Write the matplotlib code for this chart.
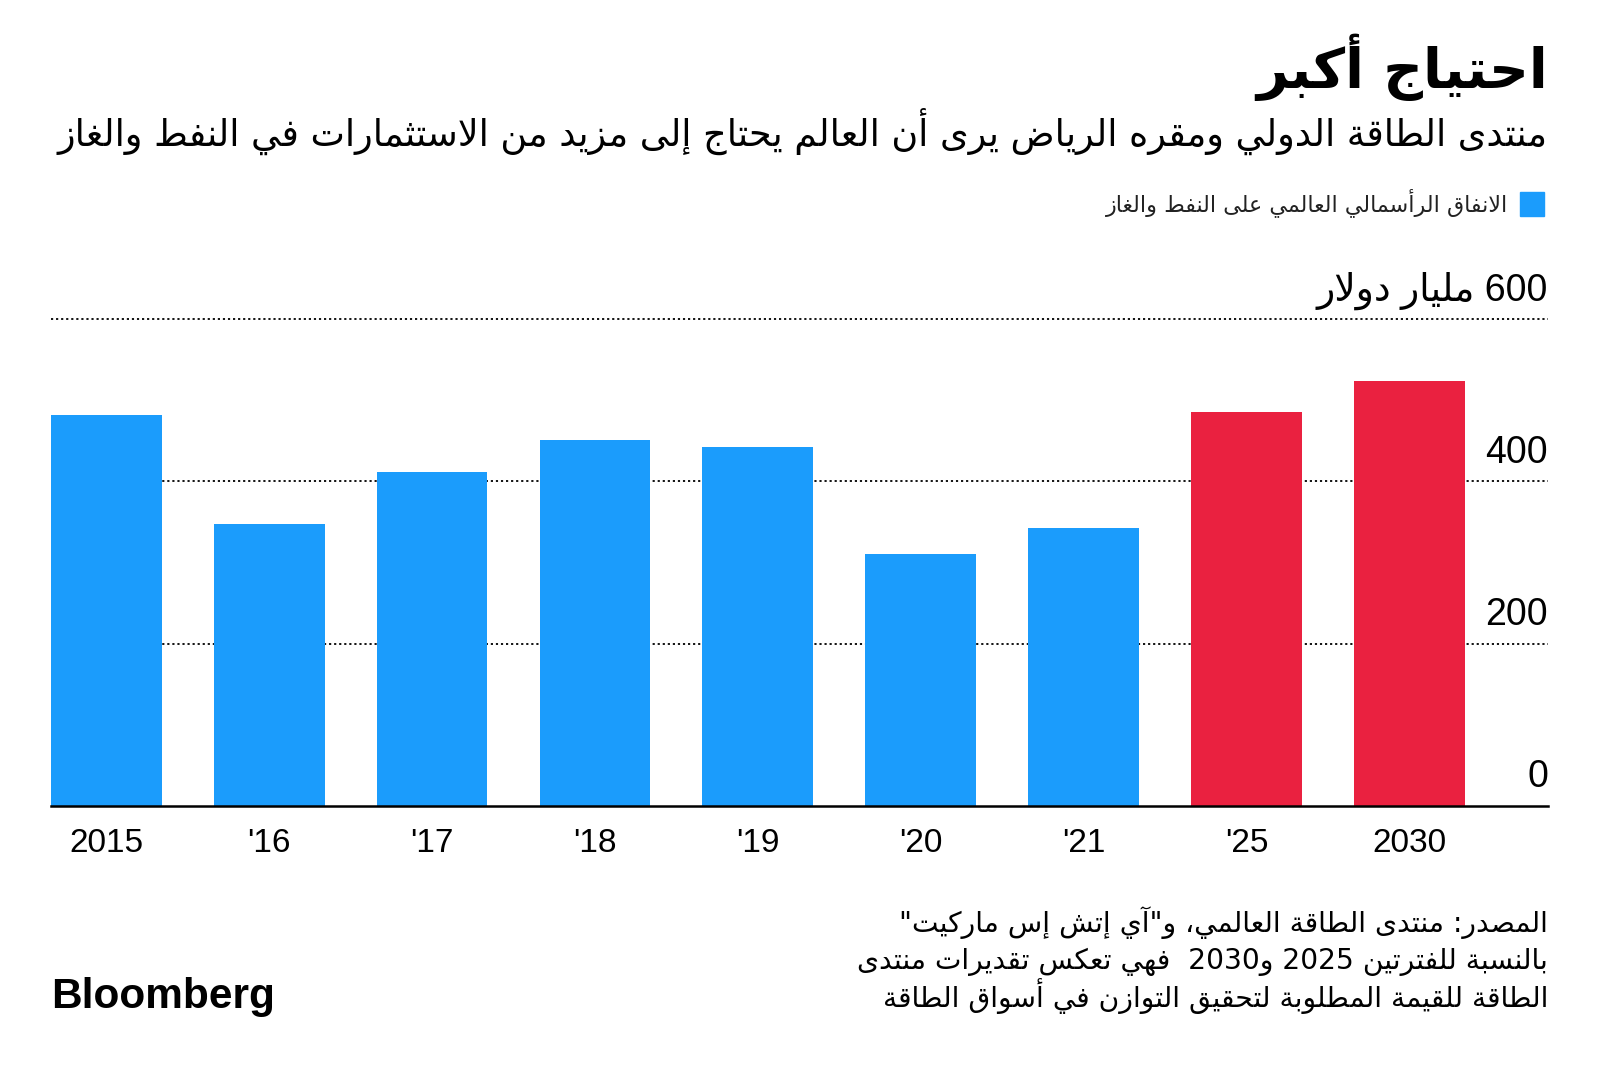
import re
import matplotlib
matplotlib.use("Agg")
import matplotlib.pyplot as plt

# ---------------- data ----------------
categories = ["2015", "'16", "'17", "'18", "'19", "'20", "'21", "'25", "2030"]
capex = [482, 348, 411, 451, 442, 310, 343, 485, 524]
is_estimate = [False, False, False, False, False, False, False, True, True]
y_ticks = [0, 200, 400, 600]
y_tick_labels = ["0", "200", "400", "600 مليار دولار"]

title = "احتياج أكبر"
subtitle = "منتدى الطاقة الدولي ومقره الرياض يرى أن العالم يحتاج إلى مزيد من الاستثمارات في النفط والغاز"
legend_label = "الانفاق الرأسمالي العالمي على النفط والغاز"
footer_lines = [
    'المصدر: منتدى الطاقة العالمي، و"آي إتش إس ماركيت"',
    "بالنسبة للفترتين 2025 و2030  فهي تعكس تقديرات منتدى",
    "الطاقة للقيمة المطلوبة لتحقيق التوازن في أسواق الطاقة",
]

BLUE = "#1b9cfc"
RED = "#ea2140"

# ---------------- minimal Arabic shaping ----------------
_F = {
    '\u0621': ('\uFE80', None, None, None),
    '\u0622': ('\uFE81', '\uFE82', None, None),
    '\u0623': ('\uFE83', '\uFE84', None, None),
    '\u0624': ('\uFE85', '\uFE86', None, None),
    '\u0625': ('\uFE87', '\uFE88', None, None),
    '\u0626': ('\uFE89', '\uFE8A', '\uFE8B', '\uFE8C'),
    '\u0627': ('\uFE8D', '\uFE8E', None, None),
    '\u0628': ('\uFE8F', '\uFE90', '\uFE91', '\uFE92'),
    '\u0629': ('\uFE93', '\uFE94', None, None),
    '\u062A': ('\uFE95', '\uFE96', '\uFE97', '\uFE98'),
    '\u062B': ('\uFE99', '\uFE9A', '\uFE9B', '\uFE9C'),
    '\u062C': ('\uFE9D', '\uFE9E', '\uFE9F', '\uFEA0'),
    '\u062D': ('\uFEA1', '\uFEA2', '\uFEA3', '\uFEA4'),
    '\u062E': ('\uFEA5', '\uFEA6', '\uFEA7', '\uFEA8'),
    '\u062F': ('\uFEA9', '\uFEAA', None, None),
    '\u0630': ('\uFEAB', '\uFEAC', None, None),
    '\u0631': ('\uFEAD', '\uFEAE', None, None),
    '\u0632': ('\uFEAF', '\uFEB0', None, None),
    '\u0633': ('\uFEB1', '\uFEB2', '\uFEB3', '\uFEB4'),
    '\u0634': ('\uFEB5', '\uFEB6', '\uFEB7', '\uFEB8'),
    '\u0635': ('\uFEB9', '\uFEBA', '\uFEBB', '\uFEBC'),
    '\u0636': ('\uFEBD', '\uFEBE', '\uFEBF', '\uFEC0'),
    '\u0637': ('\uFEC1', '\uFEC2', '\uFEC3', '\uFEC4'),
    '\u0638': ('\uFEC5', '\uFEC6', '\uFEC7', '\uFEC8'),
    '\u0639': ('\uFEC9', '\uFECA', '\uFECB', '\uFECC'),
    '\u063A': ('\uFECD', '\uFECE', '\uFECF', '\uFED0'),
    '\u0641': ('\uFED1', '\uFED2', '\uFED3', '\uFED4'),
    '\u0642': ('\uFED5', '\uFED6', '\uFED7', '\uFED8'),
    '\u0643': ('\uFED9', '\uFEDA', '\uFEDB', '\uFEDC'),
    '\u0644': ('\uFEDD', '\uFEDE', '\uFEDF', '\uFEE0'),
    '\u0645': ('\uFEE1', '\uFEE2', '\uFEE3', '\uFEE4'),
    '\u0646': ('\uFEE5', '\uFEE6', '\uFEE7', '\uFEE8'),
    '\u0647': ('\uFEE9', '\uFEEA', '\uFEEB', '\uFEEC'),
    '\u0648': ('\uFEED', '\uFEEE', None, None),
    '\u0649': ('\uFEEF', '\uFEF0', None, None),
    '\u064A': ('\uFEF1', '\uFEF2', '\uFEF3', '\uFEF4'),
}
_LA = {'\u0622': ('\uFEF5', '\uFEF6'), '\u0623': ('\uFEF7', '\uFEF8'),
       '\u0625': ('\uFEF9', '\uFEFA'), '\u0627': ('\uFEFB', '\uFEFC')}


def _reshape(s):
    units, i = [], 0
    while i < len(s):
        c = s[i]
        if c == '\u0644' and i + 1 < len(s) and s[i + 1] in _LA:
            units.append(('LA', s[i + 1]))
            i += 2
        else:
            units.append(('C', c))
            i += 1

    def jl(u):
        return u[0] == 'C' and u[1] in _F and _F[u[1]][2] is not None

    def jr(u):
        return u[0] == 'LA' or (u[1] in _F and _F[u[1]][1] is not None)

    out = []
    for k, u in enumerate(units):
        pj = k > 0 and jl(units[k - 1]) and jr(u)
        nj = k + 1 < len(units) and jl(u) and jr(units[k + 1])
        if u[0] == 'LA':
            out.append(_LA[u[1]][1 if pj else 0])
        elif u[1] in _F:
            iso, fin, ini, med = _F[u[1]]
            out.append(med if (pj and nj) else fin if pj else ini if nj else iso)
        else:
            out.append(u[1])
    return ''.join(out)


def ar(s):
    toks = re.findall(r'[0-9A-Za-z]+|.', _reshape(s), flags=re.S)
    return ''.join(reversed(toks))


# ---------------- figure ----------------
W, H = 1600, 1074
fig = plt.figure(figsize=(W / 100, H / 100), dpi=100)
fig.patch.set_facecolor("white")

ax_left, ax_right, ax_bot, ax_top = 51, 1548, 806, 319
ax = fig.add_axes([ax_left / W, 1 - ax_bot / H, (ax_right - ax_left) / W, (ax_bot - ax_top) / H])

x = list(range(len(categories)))
colors = [RED if e else BLUE for e in is_estimate]
ax.bar(x, capex, width=0.68, color=colors, zorder=2)

for v in y_ticks[1:]:
    ax.axhline(v, color="black", lw=1.3, ls=(0, (1.2, 1.6)), zorder=1, clip_on=False)
ax.axhline(0, color="black", lw=1.8, zorder=3, clip_on=False)

ax.set_xlim(-0.34, 8.852)
ax.set_ylim(0, 600)
for s in ax.spines.values():
    s.set_visible(False)
ax.set_yticks([])
ax.set_xticks(x)
ax.set_xticklabels(categories, fontsize=24, family="Liberation Sans")
ax.tick_params(axis="x", length=0, pad=15.5)

for v, lab in zip(y_ticks, y_tick_labels):
    ax.annotate(ar(lab), xy=(1, v), xycoords=("axes fraction", "data"),
                xytext=(0, 13.5), textcoords="offset points", ha="right", va="baseline",
                fontsize=27, family=["Liberation Sans", "DejaVu Sans"], color="black")

# texts
def fy(py):
    return 1 - py / H


t_title = fig.text(1548 / W, fy(88), ar(title), ha="right", va="baseline",
                   fontsize=36, fontweight="bold", family="DejaVu Sans")
t_sub = fig.text(1548 / W, fy(146), ar(subtitle), ha="right", va="baseline",
                 fontsize=22, family="DejaVu Sans")
fig.patches.append(plt.Rectangle((1520 / W, fy(216)), 24 / W, 24 / H,
                                 transform=fig.transFigure, color=BLUE, figure=fig))
t_leg = fig.text(1508 / W, fy(211), ar(legend_label), ha="right", va="baseline",
                 fontsize=14, family="DejaVu Sans", color="#222222")

foot = []
for i, line in enumerate(footer_lines):
    foot.append(fig.text(1548 / W, fy(932 + 37.5 * i), ar(line), ha="right", va="baseline",
                         fontsize=20, family="DejaVu Sans"))

fig.text(51 / W, fy(1008), "Bloomberg", ha="left", va="baseline", fontsize=30.5,
         fontweight="bold", family="Liberation Sans")

# fit text widths to the reference layout
fig.canvas.draw()
r = fig.canvas.get_renderer()


def fit(t, width):
    for _ in range(3):
        w = t.get_window_extent(r).width
        t.set_fontsize(t.get_fontsize() * width / w)


fit(t_title, 291)
fit(t_sub, 1492)
fit(t_leg, 403)
fit(foot[1], 778)
fs = foot[1].get_fontsize()
for t in foot:
    t.set_fontsize(fs)
# keep line boxes from overlapping at the reference line spacing
for _ in range(3):
    hmax = max(t.get_window_extent(r).height for t in foot)
    if hmax > 36.5:
        fs *= 36.5 / hmax
        for t in foot:
            t.set_fontsize(fs)

fig.savefig("out.png", dpi=100, facecolor="white")
